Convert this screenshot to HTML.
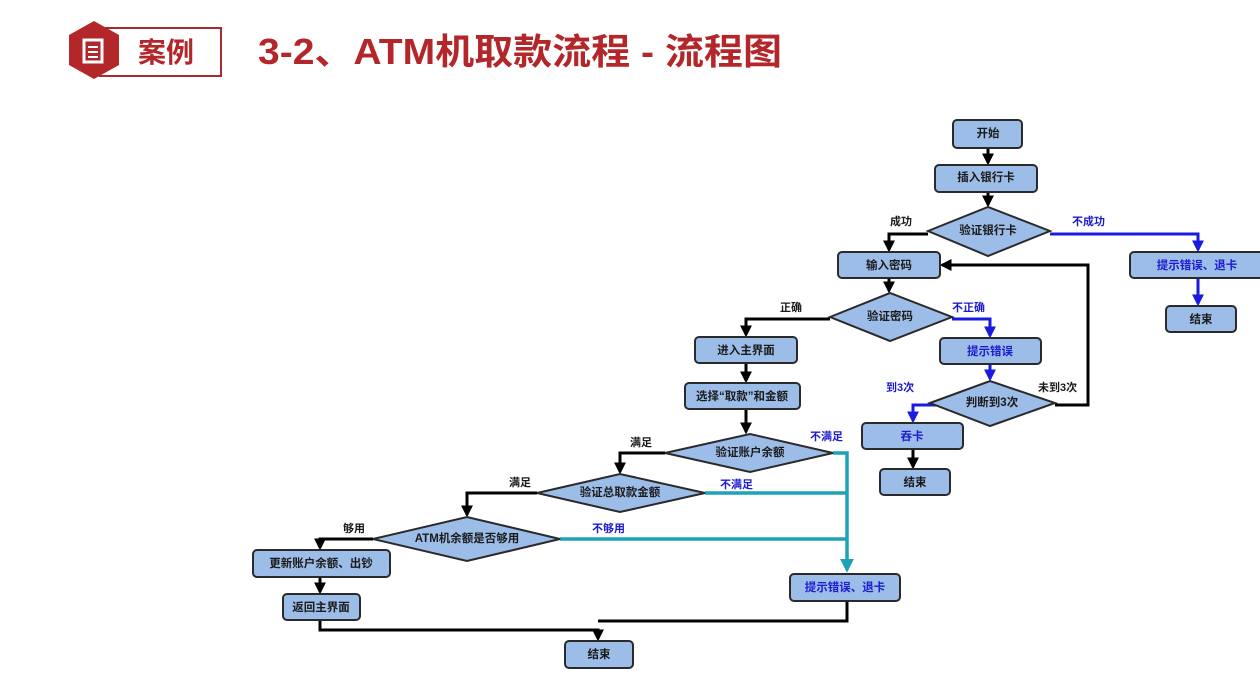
<!DOCTYPE html>
<html><head><meta charset="utf-8"><style>
html,body{margin:0;padding:0;background:#fff;}
svg{display:block}
text{font-family:"Liberation Sans","Noto Sans CJK SC",sans-serif;font-weight:bold;}
.n{fill:#9dbde9;stroke:#2a2a2a;stroke-width:2}
.t{font-size:11.5px;fill:#1a1a1a;text-anchor:middle;dominant-baseline:central}
.tb{font-size:11.5px;fill:#1c1cd0;text-anchor:middle;dominant-baseline:central}
.l{font-size:11px;fill:#1a1a1a}
.lb{font-size:11px;fill:#1c1cd0}
.k{fill:none;stroke:#000;stroke-width:3}
.b{fill:none;stroke:#1a1ae0;stroke-width:3}
.c{fill:none;stroke:#1ea2b8;stroke-width:3.5}
</style></head><body>
<svg width="1260" height="700" viewBox="0 0 1260 700">
<defs>
<marker id="ak" markerWidth="4" markerHeight="4" refX="3.2" refY="2" orient="auto" markerUnits="strokeWidth"><path d="M0,0 L4,2 L0,4 z" fill="#000"/></marker>
<marker id="ab" markerWidth="4" markerHeight="4" refX="3.2" refY="2" orient="auto" markerUnits="strokeWidth"><path d="M0,0 L4,2 L0,4 z" fill="#1a1ae0"/></marker>
<marker id="ac" markerWidth="4" markerHeight="4" refX="3.2" refY="2" orient="auto" markerUnits="strokeWidth"><path d="M0,0 L4,2 L0,4 z" fill="#1ea2b8"/></marker>
</defs>
<!-- header -->
<rect x="100" y="28" width="121" height="48" fill="#fff" stroke="#a82a2a" stroke-width="2"/>
<polygon points="94,21 119,35 119,65 94,79 69,65 69,35" fill="#b3262a"/>
<rect x="84" y="40" width="18" height="22" fill="none" stroke="#fff" stroke-width="3"/>
<line x1="88" y1="47" x2="98" y2="47" stroke="#fff" stroke-width="2"/>
<line x1="88" y1="52" x2="98" y2="52" stroke="#fff" stroke-width="2"/>
<line x1="88" y1="57" x2="98" y2="57" stroke="#fff" stroke-width="2"/>
<text x="138" y="62" style="font-size:28px;fill:#b3262a">案例</text>
<text x="258" y="64" style="font-size:36px;fill:#b3262a" textLength="524" lengthAdjust="spacingAndGlyphs">3-2、ATM机取款流程 - 流程图</text>

<!-- connectors -->
<path class="k" d="M988,148 V163" marker-end="url(#ak)"/>
<path class="k" d="M988,192 V205" marker-end="url(#ak)"/>
<path class="k" d="M928,234 H889 V250" marker-end="url(#ak)"/>
<path class="b" d="M1050,234 H1198 V250" marker-end="url(#ab)"/>
<path class="b" d="M1198,278 V304" marker-end="url(#ab)"/>
<path class="k" d="M889,278 V291" marker-end="url(#ak)"/>
<path class="k" d="M830,319 H746 V335" marker-end="url(#ak)"/>
<path class="b" d="M952,319 H990 V336" marker-end="url(#ab)"/>
<path class="b" d="M990,364 V379" marker-end="url(#ab)"/>
<path class="b" d="M950,405 H913 V421" marker-end="url(#ab)"/>
<path class="k" d="M1055,405 H1088 V265 H942" marker-end="url(#ak)"/>
<path class="k" d="M913,449 V467" marker-end="url(#ak)"/>
<path class="k" d="M746,363 V381" marker-end="url(#ak)"/>
<path class="k" d="M746,409 V432" marker-end="url(#ak)"/>
<path class="k" d="M665,453 H620 V472" marker-end="url(#ak)"/>
<path class="k" d="M537,493 H467 V515" marker-end="url(#ak)"/>
<path class="k" d="M373,539 H320 V548" marker-end="url(#ak)"/>
<path class="k" d="M320,577 V592" marker-end="url(#ak)"/>
<path class="c" d="M833,453 H847 V570" marker-end="url(#ac)"/>
<path class="c" d="M705,493 H847"/>
<path class="c" d="M560,539 H847"/>
<path class="k" d="M320,620 V630 H598 V639" marker-end="url(#ak)"/>
<path class="k" d="M847,601 V621 H598"/>

<!-- nodes -->
<rect class="n" x="953" y="120" width="69" height="28" rx="4"/><text class="t" x="988" y="134">开始</text>
<rect class="n" x="935" y="165" width="102" height="27" rx="4"/><text class="t" x="986" y="178">插入银行卡</text>
<polygon class="n" points="928,231 988,207 1050,231 988,256"/><text class="t" x="988" y="231">验证银行卡</text>
<rect class="n" x="1130" y="252" width="140" height="26" rx="4"/><text class="tb" x="1197" y="266">提示错误、退卡</text>
<rect class="n" x="1166" y="306" width="70" height="26" rx="4"/><text class="t" x="1201" y="320">结束</text>
<rect class="n" x="838" y="252" width="102" height="26" rx="4"/><text class="t" x="889" y="266">输入密码</text>
<polygon class="n" points="830,317 890,293 952,317 890,341"/><text class="t" x="890" y="317">验证密码</text>
<rect class="n" x="940" y="338" width="101" height="26" rx="4"/><text class="tb" x="990" y="352">提示错误</text>
<polygon class="n" points="930,403 990,381 1055,403 990,426"/><text class="t" x="992" y="403">判断到3次</text>
<rect class="n" x="862" y="423" width="101" height="26" rx="4"/><text class="tb" x="912" y="437">吞卡</text>
<rect class="n" x="880" y="469" width="70" height="26" rx="4"/><text class="t" x="915" y="483">结束</text>
<rect class="n" x="695" y="337" width="102" height="26" rx="4"/><text class="t" x="746" y="351">进入主界面</text>
<rect class="n" x="685" y="383" width="115" height="26" rx="4"/><text class="t" x="742" y="397">选择“取款”和金额</text>
<polygon class="n" points="665,453 750,434 833,453 750,472"/><text class="t" x="750" y="453">验证账户余额</text>
<polygon class="n" points="537,493 620,474 705,493 620,512"/><text class="t" x="620" y="493">验证总取款金额</text>
<polygon class="n" points="373,539 467,517 560,539 467,561"/><text class="t" x="467" y="539">ATM机余额是否够用</text>
<rect class="n" x="253" y="550" width="137" height="27" rx="4"/><text class="t" x="321" y="564">更新账户余额、出钞</text>
<rect class="n" x="283" y="594" width="77" height="26" rx="4"/><text class="t" x="321" y="608">返回主界面</text>
<rect class="n" x="790" y="574" width="110" height="27" rx="4"/><text class="tb" x="845" y="588">提示错误、退卡</text>
<rect class="n" x="565" y="641" width="68" height="27" rx="4"/><text class="t" x="599" y="655">结束</text>

<!-- labels -->
<text class="l" x="890" y="225">成功</text>
<text class="lb" x="1072" y="225">不成功</text>
<text class="l" x="780" y="311">正确</text>
<text class="lb" x="952" y="311">不正确</text>
<text class="lb" x="886" y="391">到3次</text>
<text class="l" x="1038" y="391">未到3次</text>
<text class="l" x="630" y="446">满足</text>
<text class="lb" x="810" y="440">不满足</text>
<text class="l" x="509" y="486">满足</text>
<text class="lb" x="720" y="488">不满足</text>
<text class="l" x="343" y="532">够用</text>
<text class="lb" x="592" y="532">不够用</text>
</svg>
</body></html>
